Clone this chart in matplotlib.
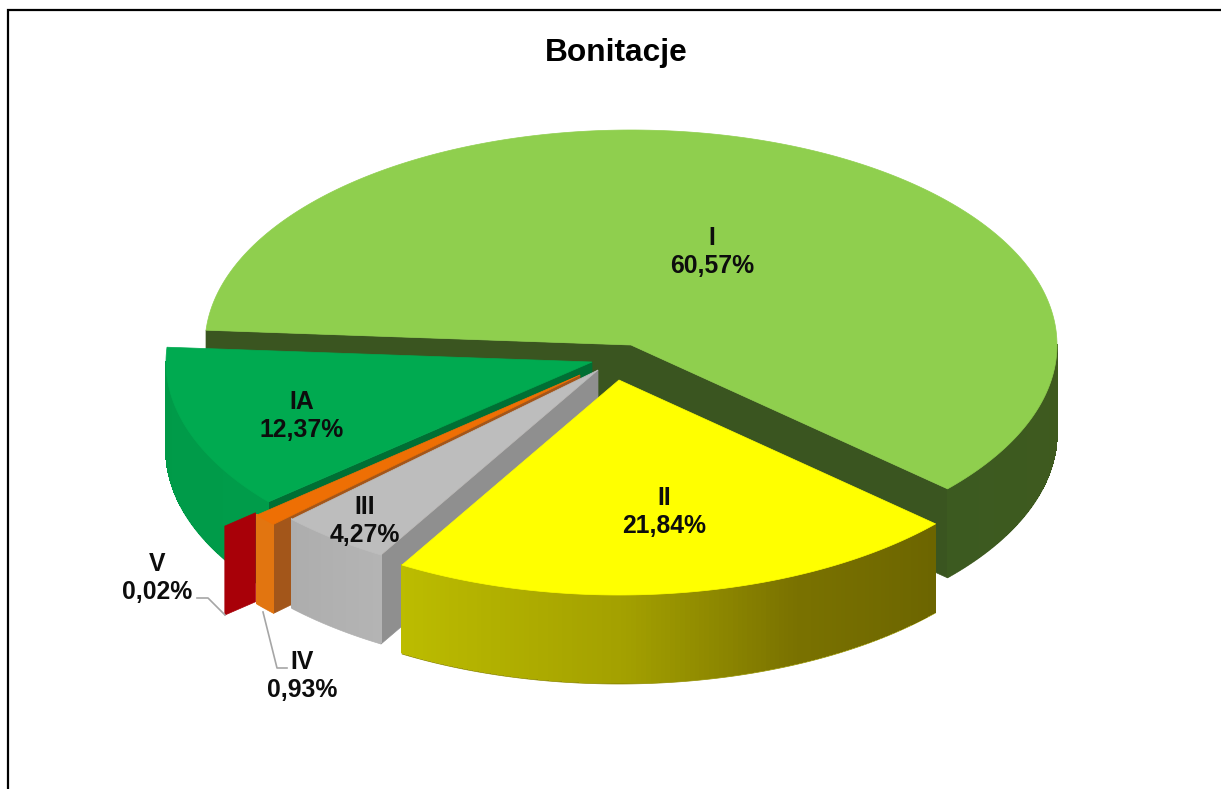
import numpy as np
from matplotlib import pyplot as plt
from matplotlib.collections import PolyCollection
from matplotlib.patches import Polygon

# chart data, counter clockwise starting from the slice at the back
categories = ['I', 'IA', 'V', 'IV', 'III', 'II']
values = [60.57, 12.37, 0.02, 0.93, 4.27, 21.84]
title = 'Bonitacje'

# look of the pie, in pixels of the 1221x789 picture
START_ANGLE = -42.0
RX, RY = 426.0, 215.0
DEPTH = 89.0
centers = [(631, 345), (592, 362), (548, 386), (580, 375), (598, 370), (619, 380)]
top_colors = ['#8fcf4e', '#00aa50', '#c00000', '#ee6f04', '#bdbdbd', '#ffff00']
side_colors = [
    [(0.0, '#3c5a20'), (1.0, '#3f5a1e')],
    [(0.0, '#009a48'), (1.0, '#009c4a')],
    [(0.0, '#a80008'), (1.0, '#a80008')],
    [(0.0, '#e27510'), (1.0, '#e27510')],
    [(0.0, '#adadad'), (1.0, '#b4b4b4')],
    [(0.0, '#bcbc00'), (0.4, '#a3a000'), (0.7, '#7a7200'), (1.0, '#6c6500')],
]
cut_colors = ['#3a5520', '#006f34', '#a80008', '#a3561a', '#8f8f8f', None]
label_pos = [(712, 252), (302, 416), (157, 578), (302, 676), (365, 521), (664, 512)]
leaders = {'V': [(197, 598), (208, 598), (225, 615)],
           'IV': [(263, 612), (277, 668), (287, 668)]}


def hex_rgb(c):
    return np.array([int(c[i:i + 2], 16) / 255 for i in (1, 3, 5)])


def rim(center, a0, a1, n=120):
    t = np.radians(np.linspace(a0, a1, n))
    return np.column_stack([center[0] + RX * np.cos(t), center[1] - RY * np.sin(t)])


def draw_cut(ax, center, angle, color, frac=1.0):
    # flat face of the slice going from the rim towards the middle
    p = rim(center, angle, angle, 1)[0]
    q = p + (np.array(center) - p) * frac
    ax.add_patch(Polygon([p, q, q + (0, DEPTH), p + (0, DEPTH)], closed=True,
                         facecolor=color, edgecolor=color, lw=0.5))


def draw_side(ax, center, a0, a1, stops):
    # only the part of the rim which looks at the viewer
    if a1 <= 180:
        a0, a1 = a0, min(a1, 0.0)
    else:
        a0, a1 = max(a0, 180.0) - 360.0, a1 - 360.0
    pts = rim(center, a0, a1)
    pos = [s[0] for s in stops]
    rgb = np.array([hex_rgb(s[1]) for s in stops])
    u = np.linspace(0, 1, len(pts) - 1)
    colors = np.column_stack([np.interp(u, pos, rgb[:, k]) for k in range(3)])
    # smooth outline below, the quads on top have no antialiasing so no streaks
    outline = np.vstack([pts, pts[::-1] + (0, DEPTH)])
    ax.add_patch(Polygon(outline, closed=True, facecolor=colors.mean(axis=0),
                         edgecolor=colors.mean(axis=0), lw=0.5))
    quads = [[pts[i], pts[i + 1], pts[i + 1] + (0, DEPTH - 1.5), pts[i] + (0, DEPTH - 1.5)]
             for i in range(len(pts) - 1)]
    ax.add_collection(PolyCollection(quads, facecolors=colors, edgecolors=colors,
                                     linewidths=0.6, antialiaseds=False))


plt.rcParams['font.family'] = ['Liberation Sans', 'DejaVu Sans']
fig = plt.figure(figsize=(12.21, 7.89), dpi=100)
ax = fig.add_axes([0, 0, 1, 1])
ax.set_xlim(0, 1221)
ax.set_ylim(789, 0)
ax.axis('off')

# frame of the chart, only top and left are in the picture
ax.plot([8, 8, 1221], [789, 10, 10], color='black', lw=1.6, solid_joinstyle='miter')

spans = np.array(values) / sum(values) * 360.0
starts = START_ANGLE + np.concatenate([[0], np.cumsum(spans)[:-1]])
ends = starts + spans

# painter's order, back to front
for i in range(len(values)):
    a0, a1, c = starts[i], ends[i], centers[i]
    if categories[i] == 'V':
        # too thin to have a top, only the cut face shows up
        draw_cut(ax, c, a1, cut_colors[i], frac=0.095)
        continue
    if categories[i] == 'I':
        draw_cut(ax, c, a1, cut_colors[i])
        draw_cut(ax, c, a0, cut_colors[i])
    elif cut_colors[i] is not None:
        draw_cut(ax, c, a1, cut_colors[i])
    draw_side(ax, c, a0, a1, side_colors[i])
    top = np.vstack([[c], rim(c, a0, a1, 240)])
    ax.add_patch(Polygon(top, closed=True, facecolor=top_colors[i], edgecolor=top_colors[i], lw=0.5))

for name, line in leaders.items():
    xs, ys = zip(*line)
    ax.plot(xs, ys, color='#a6a6a6', lw=1.2)

for name, v, (x, y) in zip(categories, values, label_pos):
    txt = name + '\n' + f'{v:.2f}'.replace('.', ',') + '%'
    ax.text(x, y, txt, ha='center', va='center', fontsize=17.8, fontweight='bold',
            color='#0d0d0d', linespacing=1.2)

ax.text(616, 53, title, ha='center', va='center', fontsize=22.8, fontweight='bold', color='black')

fig.savefig('out.png', dpi=100, facecolor='white')
